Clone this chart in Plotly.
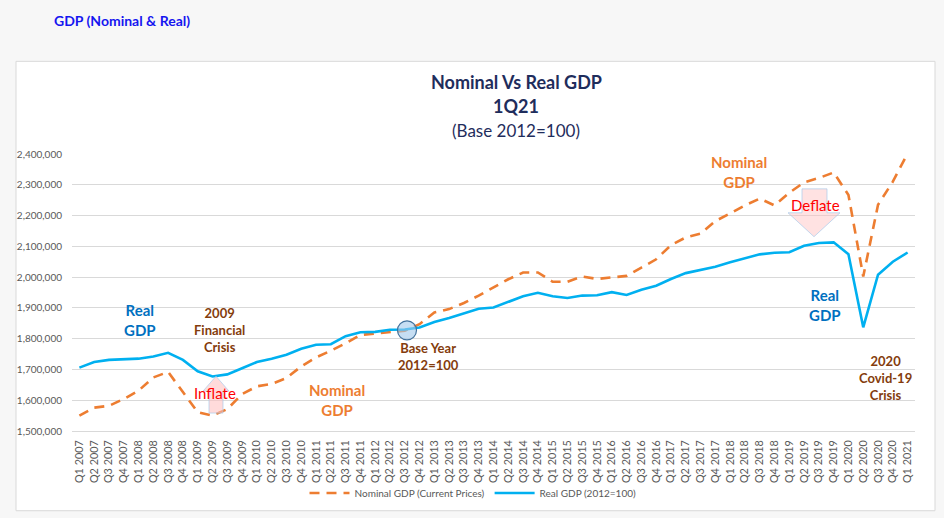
import plotly.graph_objects as go

quarters = [f"Q{q} {y}" for y in range(2007, 2022) for q in range(1, 5)][:57]

nominal_gdp = [1550000, 1576000, 1582000, 1604000, 1631000, 1674000, 1692000, 1626000,
               1561000, 1550000, 1571000, 1620000, 1645000, 1653000, 1672000, 1710000,
               1739000, 1761000, 1785000, 1812000, 1816000, 1820000, 1826000, 1847000,
               1885000, 1896000, 1916000, 1940000, 1967000, 1993000, 2015000, 2015000,
               1985000, 1985000, 2002000, 1994000, 1999000, 2004000, 2031000, 2058000,
               2104000, 2129000, 2141000, 2182000, 2207000, 2233000, 2255000, 2233000,
               2274000, 2308000, 2322000, 2340000, 2267000, 2002000, 2235000, 2310000,
               2402000]

real_gdp = [1706000, 1724000, 1731000, 1732000, 1735000, 1742000, 1754000, 1731000,
            1694000, 1677000, 1684000, 1704000, 1724000, 1735000, 1748000, 1767000,
            1780000, 1782000, 1808000, 1821000, 1822000, 1829000, 1830000, 1836000,
            1854000, 1867000, 1881000, 1897000, 1901000, 1920000, 1938000, 1949000,
            1938000, 1932000, 1940000, 1941000, 1951000, 1942000, 1959000, 1972000,
            1994000, 2013000, 2023000, 2034000, 2048000, 2062000, 2074000, 2079000,
            2081000, 2102000, 2111000, 2113000, 2074000, 1837000, 2008000, 2050000,
            2080000]

y_ticks = list(range(1500000, 2400001, 100000))

FONT = "Lato"
L, R, T, B = 72, 915, 154, 432


def px(x):
    return (x - L) / (R - L)


def py(y):
    return (B - y) / (B - T)


fig = go.Figure()
fig.add_trace(go.Scatter(x=quarters, y=nominal_gdp, mode="lines",
                         name="Nominal GDP (Current Prices)",
                         line=dict(color="#ED7D31", width=2.6, dash="10px,7px")))
fig.add_trace(go.Scatter(x=quarters, y=real_gdp, mode="lines",
                         name="Real GDP (2012=100)",
                         line=dict(color="#00B0F0", width=2.6)))

shapes = [
    # white chart box
    dict(type="rect", xref="paper", yref="paper", x0=px(16), x1=px(935), y0=py(512), y1=py(61),
         fillcolor="white", line=dict(color="#d9d9d9", width=1), layer="below"),
    # inflate arrow (up)
    dict(type="path", xref="paper", yref="paper",
         path=(f"M {px(216)},{py(377)} L {px(229)},{py(392)} L {px(223)},{py(392)} "
               f"L {px(223)},{py(414)} L {px(209)},{py(414)} L {px(209)},{py(392)} "
               f"L {px(203)},{py(392)} Z"),
         fillcolor="rgba(255,190,190,0.55)", line=dict(color="rgba(160,200,235,0.8)", width=0.8)),
    # deflate arrow (down)
    dict(type="path", xref="paper", yref="paper",
         path=(f"M {px(802)},{py(189)} L {px(827)},{py(189)} L {px(827)},{py(213)} "
               f"L {px(840)},{py(213)} L {px(814)},{py(237)} L {px(788)},{py(213)} "
               f"L {px(802)},{py(213)} Z"),
         fillcolor="rgba(255,190,190,0.45)", line=dict(color="rgba(160,200,235,0.8)", width=0.8)),
    # base year circle
    dict(type="circle", xref="paper", yref="paper",
         x0=px(397.5), x1=px(416.5), y0=py(340.5), y1=py(321.5),
         fillcolor="rgba(160,200,235,0.6)", line=dict(color="#41719C", width=1.2)),
]

ann = []


def add_text(x, y, text, color, size, bold=True):
    t = f"<b>{text}</b>" if bold else text
    ann.append(dict(x=px(x), y=py(y), xref="paper", yref="paper", text=t, showarrow=False,
                    font=dict(family=FONT, size=size, color=color),
                    xanchor="center", yanchor="middle", align="center"))


NAVY = "#1F2D5C"
add_text(516, 82, "Nominal Vs Real GDP", NAVY, 18)
add_text(516, 106, "1Q21", NAVY, 18)
add_text(516, 130, "(Base 2012=100)", NAVY, 17, bold=False)

BLUE = "#0070C0"
BROWN = "#843C0C"
ORANGE = "#ED7D31"
add_text(140, 321, "Real<br>GDP", BLUE, 15)
add_text(219, 331, "2009<br>Financial<br>Crisis", BROWN, 13)
add_text(215, 394, "Inflate", "#FF0000", 15, bold=False)
add_text(337, 401, "Nominal<br>GDP", ORANGE, 15)
add_text(428, 357, "Base Year<br>2012=100", BROWN, 13)
add_text(739, 172, "Nominal<br>GDP", ORANGE, 15)
add_text(815, 205, "Deflate", "#FF0000", 15, bold=False)
add_text(825, 306, "Real<br>GDP", BLUE, 15)
add_text(885, 379, "2020<br>Covid-19<br>Crisis", BROWN, 13)

ann.append(dict(x=px(52), y=py(20), xref="paper", yref="paper",
                text="<b>GDP (Nominal & Real)</b>", showarrow=False,
                font=dict(family=FONT, size=14, color="#1515F0"),
                xanchor="left", yanchor="middle"))

fig.update_layout(
    width=944, height=518,
    margin=dict(l=L, r=944 - R, t=T, b=518 - B, pad=0),
    paper_bgcolor="#f7f7f7",
    plot_bgcolor="white",
    font=dict(family=FONT, color="#595959"),
    shapes=shapes,
    annotations=ann,
    showlegend=True,
    legend=dict(orientation="h", x=px(473), y=py(493), xanchor="center", yanchor="middle",
                font=dict(size=10, color="#595959"), bgcolor="rgba(0,0,0,0)",
                itemwidth=40),
)
fig.update_xaxes(type="category", range=[-0.5, 56.5], tickangle=-90,
                 tickfont=dict(size=10.8, color="#595959"), showgrid=False,
                 showline=True, linecolor="#d9d9d9", linewidth=1,
                 ticks="outside", ticklen=4, tickcolor="rgba(0,0,0,0)")
fig.update_yaxes(range=[1500000, 2400000], tickvals=y_ticks, tickformat=",",
                 tickfont=dict(size=10, color="#595959"), showgrid=True,
                 gridcolor="#d9d9d9", gridwidth=1, zeroline=False, showline=False,
                 ticks="outside", ticklen=7, tickcolor="rgba(0,0,0,0)")

fig.write_html("out.html", config={"displayModeBar": False},
               post_script="document.body.style.margin='0px';document.body.style.overflow='hidden';")
